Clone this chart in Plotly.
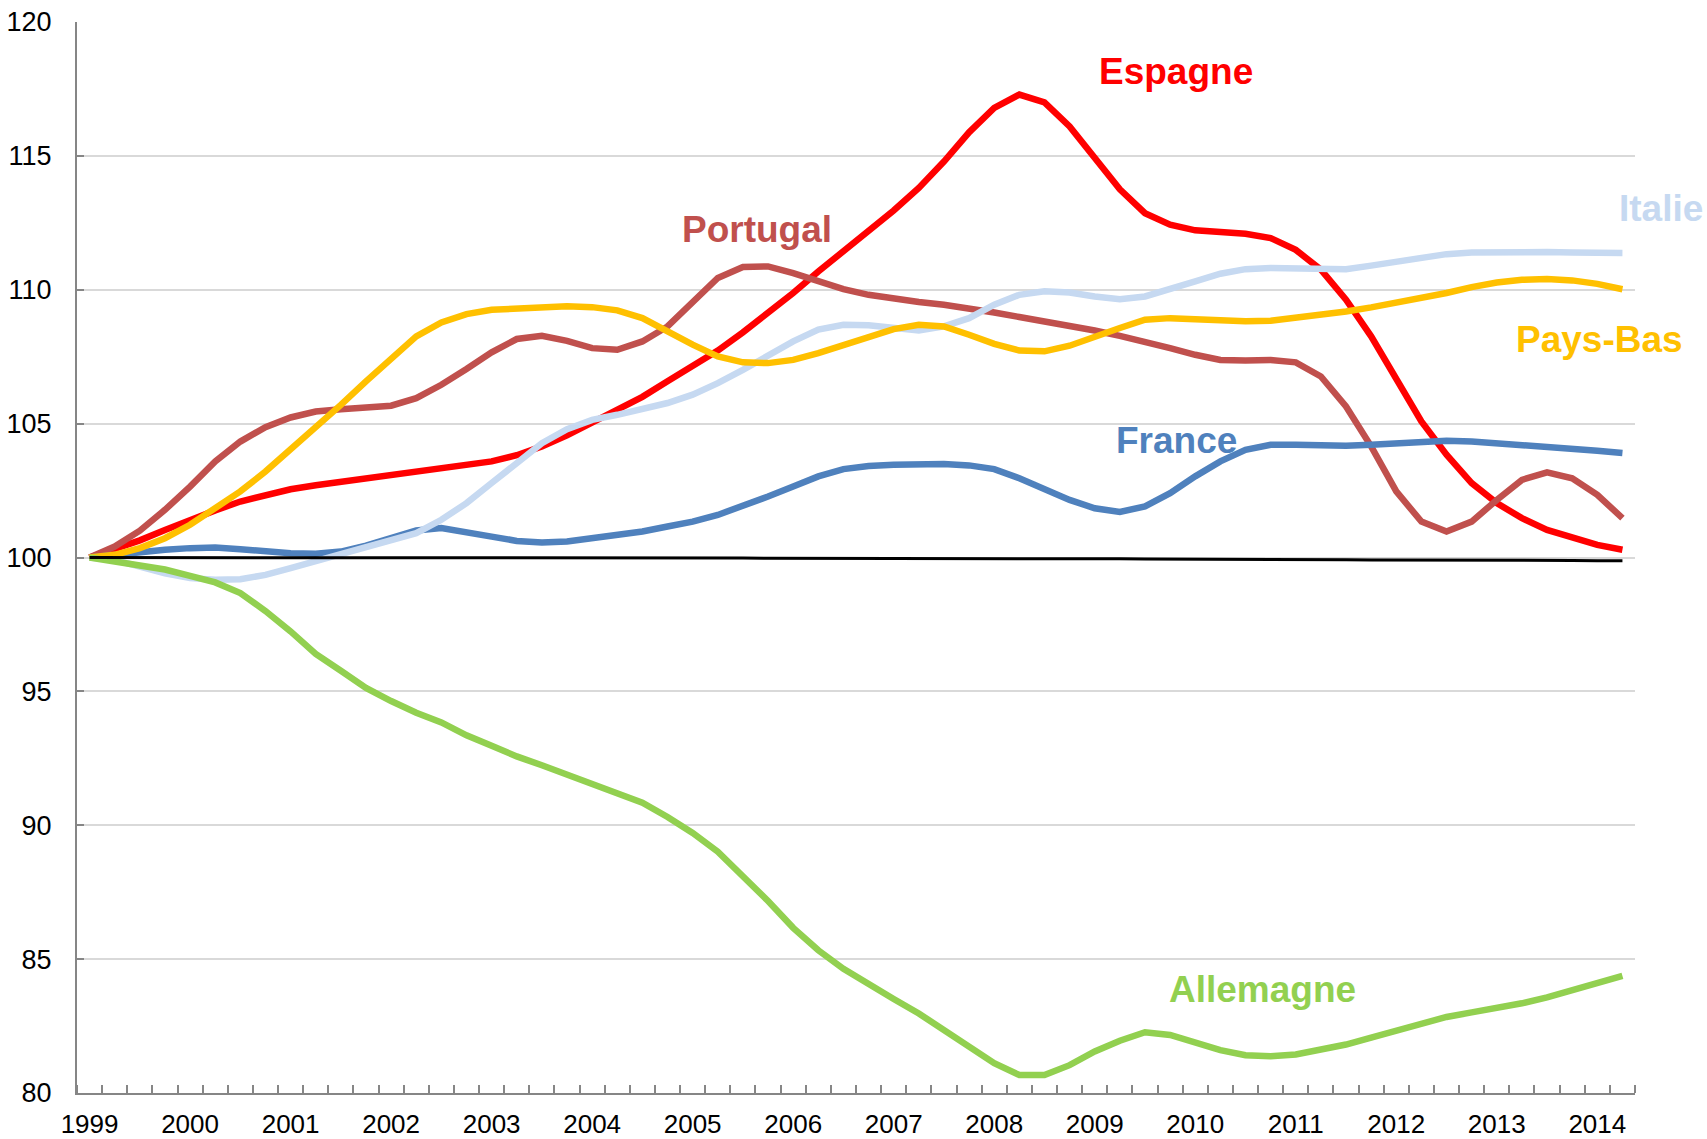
import plotly.graph_objects as go

# Quarterly observations, 1999T1 .. 2014T2
years = list(range(1999, 2015))
quarters = [f"{y}T{q}" for y in years for q in range(1, 5)][:62]

espagne = [100.0, 100.31, 100.64, 101.03, 101.41, 101.76, 102.09, 102.34, 102.55, 102.7,
           102.83, 102.96, 103.11, 103.26, 103.39, 103.46, 103.59, 103.82, 104.15, 104.56,
           105.04, 105.55, 106.0, 106.58, 107.14, 107.73, 108.41, 109.13, 109.88, 110.68,
           111.43, 112.14, 112.96, 113.8, 114.79, 115.88, 116.79, 117.29, 117.0, 116.1,
           114.92, 113.75, 112.86, 112.43, 112.22, 112.14, 112.09, 111.93, 111.49, 110.75,
           109.63, 108.26, 106.64, 105.08, 103.84, 102.78, 102.03, 101.47, 101.03, 100.72,
           100.47, 100.29]

portugal = [100.0, 100.41, 101.0, 101.78, 102.65, 103.59, 104.33, 104.87, 105.23, 105.45,
            105.54, 105.58, 105.67, 105.95, 106.45, 107.04, 107.66, 108.16, 108.28, 108.09,
            107.82, 107.76, 108.07, 108.63, 109.56, 110.44, 110.85, 110.87, 110.62, 110.31,
            110.02, 109.81, 109.65, 109.54, 109.44, 109.32, 109.15, 108.98, 108.82, 108.67,
            108.48, 108.28, 108.07, 107.82, 107.57, 107.38, 107.36, 107.38, 107.29, 106.76,
            105.64, 104.15, 102.47, 101.34, 100.97, 101.34, 102.15, 102.9, 103.18, 102.96,
            102.34, 101.47]

italie = [100.0, 99.91, 99.66, 99.41, 99.23, 99.17, 99.19, 99.35, 99.6, 99.85,
          100.1, 100.35, 100.6, 100.91, 101.41, 102.03, 102.78, 103.52, 104.27, 104.79,
          105.14, 105.33, 105.52, 105.77, 106.08, 106.51, 107.01, 107.57, 108.07, 108.51,
          108.69, 108.67, 108.57, 108.48, 108.63, 108.94, 109.44, 109.81, 109.94, 109.9,
          109.75, 109.65, 109.75, 110.0, 110.31, 110.6, 110.77, 110.81, 110.78, 110.75,
          110.77, 110.9, 111.06, 111.22, 111.33, 111.39, 111.41, 111.41, 111.41, 111.39,
          111.39, 111.37]

pays_bas = [100.0, 100.1, 100.35, 100.72, 101.22, 101.84, 102.47, 103.21, 104.02, 104.83,
            105.7, 106.58, 107.45, 108.26, 108.78, 109.09, 109.25, 109.3, 109.35, 109.38,
            109.35, 109.23, 108.94, 108.44, 107.95, 107.51, 107.29, 107.26, 107.38, 107.63,
            107.95, 108.26, 108.53, 108.69, 108.63, 108.32, 107.98, 107.73, 107.7, 107.91,
            108.26, 108.57, 108.88, 108.94, 108.9, 108.85, 108.82, 108.84, 108.94, 109.07,
            109.19, 109.34, 109.5, 109.69, 109.88, 110.1, 110.27, 110.37, 110.4, 110.35,
            110.22, 110.02]

france = [100.0, 100.1, 100.22, 100.29, 100.35, 100.37, 100.31, 100.22, 100.16, 100.14,
          100.22, 100.44, 100.72, 101.01, 101.1, 100.97, 100.78, 100.62, 100.56, 100.6,
          100.72, 100.85, 100.97, 101.16, 101.34, 101.59, 101.91, 102.28, 102.65, 103.03,
          103.3, 103.42, 103.46, 103.49, 103.49, 103.44, 103.3, 102.96, 102.55, 102.15,
          101.84, 101.7, 101.91, 102.4, 103.03, 103.59, 104.02, 104.21, 104.21, 104.18,
          104.17, 104.21, 104.27, 104.33, 104.36, 104.33, 104.27, 104.18, 104.11, 104.05,
          103.99, 103.9]

allemagne = [100.0, 99.84, 99.71, 99.55, 99.31, 99.07, 98.67, 98.0, 97.24, 96.4,
             95.77, 95.13, 94.64, 94.2, 93.84, 93.36, 92.97, 92.57, 92.24, 91.89,
             91.55, 91.2, 90.84, 90.31, 89.71, 89.01, 88.11, 87.17, 86.17, 85.33,
             84.64, 84.04, 83.51, 82.97, 82.37, 81.71, 81.11, 80.67, 80.67, 81.04,
             81.55, 81.95, 82.27, 82.17, 81.91, 81.6, 81.41, 81.37, 81.44, 81.6,
             81.81, 82.07, 82.33, 82.6, 82.84, 83.01, 83.17, 83.35, 83.57, 83.84,
             84.11, 84.37]

reference = [100.0, 100.0, 100.0, 100.0, 100.0, 100.0, 100.0, 100.0, 100.0, 100.0,
             100.0, 99.99, 99.99, 99.99, 99.99, 99.99, 99.99, 99.99, 99.99, 99.99,
             99.99, 99.99, 99.98, 99.98, 99.98, 99.98, 99.98, 99.97, 99.97, 99.97,
             99.97, 99.97, 99.96, 99.96, 99.96, 99.96, 99.96, 99.96, 99.95, 99.95,
             99.95, 99.95, 99.94, 99.94, 99.94, 99.93, 99.93, 99.93, 99.92, 99.92,
             99.92, 99.91, 99.91, 99.91, 99.9, 99.9, 99.9, 99.89, 99.89, 99.89,
             99.88, 99.88]

year_labels = [str(y) for y in years[:16]]

x = list(range(len(quarters)))

series = [
    ("Espagne", espagne, "#FF0000"),
    ("Portugal", portugal, "#C0504D"),
    ("France", france, "#4F81BD"),
    ("Italie", italie, "#C6D9F1"),
    ("Pays-Bas", pays_bas, "#FFC000"),
    ("Allemagne", allemagne, "#92D050"),
]

fig = go.Figure()
for name, vals, col in series:
    fig.add_trace(go.Scatter(x=x, y=vals, mode="lines", name=name,
                             line=dict(color=col, width=6.5), hovertext=quarters))
fig.add_trace(go.Scatter(x=x, y=reference, mode="lines", name="Référence",
                         line=dict(color="#000000", width=3), hovertext=quarters))

# label positions in paper coordinates (fraction of plot area)
labels = [
    ("Espagne", 0.7054, 0.954, "#FF0000"),
    ("Portugal", 0.4365, 0.8067, "#C0504D"),
    ("Italie", 1.0167, 0.8254, "#C6D9F1"),
    ("Pays-Bas", 0.9775, 0.704, "#FFC000"),
    ("France", 0.7054, 0.6097, "#4F81BD"),
    ("Allemagne", 0.7612, 0.0971, "#92D050"),
]
for txt, ax_, ay_, col in labels:
    fig.add_annotation(x=ax_, y=ay_, xref="paper", yref="paper", text=f"<b>{txt}</b>",
                       xanchor="center", yanchor="middle",
                       showarrow=False, font=dict(family="Arial, Liberation Sans", size=37, color=col))

fig.update_layout(
    width=1707, height=1139,
    margin=dict(l=77, r=72, t=22, b=46),
    paper_bgcolor="white", plot_bgcolor="white",
    showlegend=False,
    font=dict(family="Arial, Liberation Sans", size=27, color="#000000"),
)
fig.update_xaxes(
    range=[-0.5, len(quarters) - 0.5],
    tickmode="array", tickvals=[4 * k for k in range(len(year_labels))], ticktext=year_labels,
    ticks="", showgrid=False, zeroline=False,
    showline=True, linecolor="#868686", linewidth=2,
    tickfont=dict(size=26), ticklabelstandoff=7,
    minor=dict(ticks="inside", ticklen=8, tickcolor="#868686", tickwidth=1.5,
               tickmode="linear", tick0=-0.5, dtick=1, showgrid=False),
    automargin=False,
)
fig.update_yaxes(
    range=[80, 120], dtick=5, tick0=80,
    showgrid=True, gridcolor="#D9D9D9", gridwidth=1.5,
    zeroline=False, showline=True, linecolor="#868686", linewidth=2,
    ticks="inside", ticklen=7, tickcolor="#868686", tickwidth=1.5,
    tickfont=dict(size=27), ticklabelstandoff=18,
    automargin=False,
)

fig.write_html("out.html", config={"displayModeBar": False},
               post_script="document.body.style.margin='0px';document.body.style.overflow='hidden';")
